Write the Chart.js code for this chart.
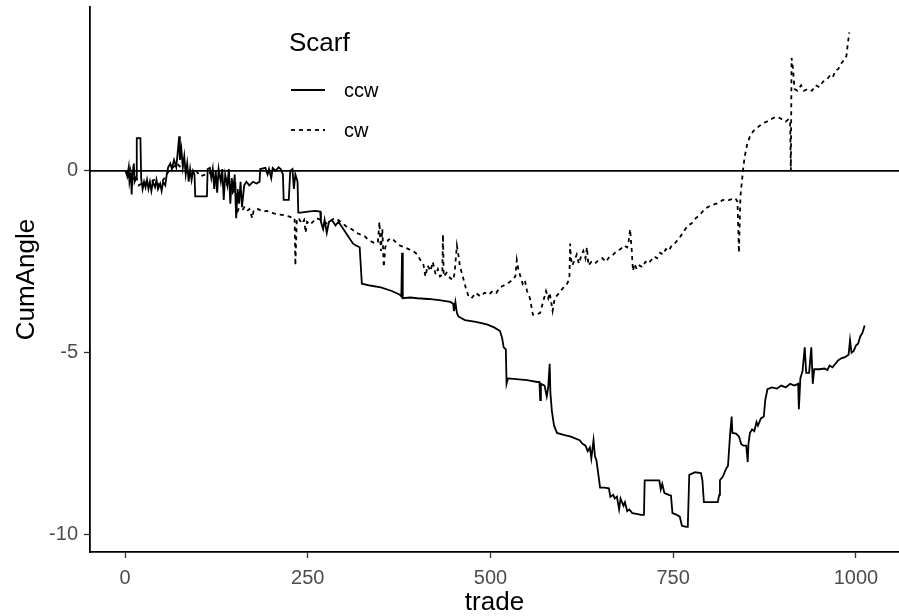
<!DOCTYPE html>
<html><head><meta charset="utf-8">
<script src="https://cdn.jsdelivr.net/npm/chart.js@4.4.1/dist/chart.umd.min.js"></script>
<style>html,body{margin:0;padding:0;background:#fff;} canvas{display:block;}</style>
</head><body>
<canvas id="c" width="899" height="616"></canvas>
<script>
const legendTitle = 'Scarf';
const seriesNames = ['ccw', 'cw'];
const xTitle = 'trade';
const yTitle = 'CumAngle';
const xTicks = [0, 250, 500, 750, 1000];
const yTicks = [-10, -5, 0];
const refLineValue = 0;

const ccwTrade = [
  1,3,5,6,8,9,10,12,13,15,
  16,18,21,22,24,26,28,30,32,34,
  36,38,41,43,45,48,50,52,55,57,
  59,62,64,67,70,72,74,75,77,79,
  81,83,85,87,89,91,93,95,96,104,
  112,113,116,118,120,122,124,126,128,131,
  133,135,137,140,142,144,146,148,150,152,
  154,156,158,160,163,166,170,175,180,184,
  185,192,195,197,200,202,206,210,213,216,
  217,224,226,229,231,233,236,237,240,250,
  260,267,268,271,273,276,279,283,288,292,
  297,302,307,312,316,321,324,335,350,365,
  376,378,379,380,390,400,415,430,445,449,
  450,452,454,456,465,480,495,505,513,516,
  518,521,522,524,535,550,564,567,568,569,
  574,577,579,581,582,584,587,591,600,610,
  622,626,630,633,636,638,641,643,645,648,
  650,656,662,664,668,670,673,676,678,682,
  684,687,690,694,700,706,710,711,720,731,
  733,735,738,744,747,749,755,759,762,768,
  770,772,780,788,790,792,800,811,813,814,
  818,820,822,825,826,828,830,831,836,840,
  843,846,850,852,853,855,858,861,864,866,
  870,874,876,879,885,892,898,904,910,916,
  921,922,924,927,930,932,936,939,941,943,
  950,957,961,964,968,972,976,980,985,990,
  992,994,997,1000,1003,1006,1009,1012
];
const ccwAngle = [
  0.0,-0.15,0.1,-0.3,-0.05,-0.65,-0.1,0.2,-0.3,-0.2,
  0.9,0.9,0.9,-0.2,-0.5,-0.3,-0.45,-0.25,-0.5,-0.3,
  -0.55,-0.3,-0.45,-0.25,-0.5,-0.35,-0.55,-0.3,-0.4,-0.1,
  0.1,0.2,0.05,0.3,0.1,0.5,0.95,0.3,0.6,0.1,
  0.4,-0.1,0.2,-0.3,0.05,-0.25,0.0,-0.1,-0.7,-0.7,
  -0.7,0.05,0.08,-0.2,0.05,-0.5,0.0,-0.6,0.05,-0.3,
  0.05,-0.8,-0.1,-0.4,0.05,-0.9,-0.2,-0.6,-0.1,-1.3,
  -0.5,-0.9,-0.3,-1.0,-0.4,-0.3,-0.4,-0.3,-0.35,-0.3,
  0.05,0.08,-0.1,0.05,-0.2,0.08,0.0,0.1,0.05,-0.1,
  -0.8,-0.8,0.0,0.05,-0.5,-0.1,-0.3,-1.15,-1.15,-1.12,
  -1.1,-1.12,-1.4,-1.6,-1.35,-1.7,-1.4,-1.35,-1.5,-1.4,
  -1.55,-1.7,-1.85,-2.0,-2.05,-2.1,-3.1,-3.15,-3.2,-3.3,
  -3.4,-3.45,-2.25,-3.5,-3.48,-3.5,-3.52,-3.55,-3.6,-3.65,
  -3.85,-3.6,-3.9,-4.0,-4.1,-4.15,-4.22,-4.3,-4.4,-4.6,
  -4.85,-4.9,-5.85,-5.7,-5.72,-5.75,-5.8,-5.8,-6.3,-5.85,
  -5.9,-6.2,-5.95,-5.3,-6.1,-6.6,-7.0,-7.2,-7.25,-7.3,
  -7.4,-7.5,-7.55,-7.7,-7.6,-7.9,-7.4,-7.85,-7.95,-8.4,
  -8.7,-8.7,-8.72,-8.95,-8.9,-9.0,-8.95,-9.3,-9.0,-9.2,
  -9.1,-9.35,-9.3,-9.4,-9.42,-9.45,-9.45,-8.5,-8.5,-8.5,
  -8.75,-8.6,-8.85,-8.9,-8.92,-9.4,-9.45,-9.5,-9.75,-9.78,
  -9.78,-8.35,-8.28,-8.3,-8.5,-9.1,-9.1,-9.1,-8.9,-8.5,
  -8.4,-8.3,-8.2,-8.1,-7.8,-7.2,-6.75,-7.2,-7.22,-7.3,
  -7.5,-7.55,-7.55,-8.0,-7.5,-7.2,-7.1,-7.15,-6.9,-7.0,
  -6.8,-6.75,-6.3,-6.0,-5.95,-5.98,-5.9,-5.95,-5.85,-5.9,
  -5.85,-6.55,-5.7,-5.5,-4.85,-5.55,-5.55,-4.85,-5.85,-5.45,
  -5.45,-5.43,-5.47,-5.35,-5.4,-5.3,-5.2,-5.15,-5.12,-5.05,
  -4.65,-5.0,-4.95,-4.8,-4.75,-4.55,-4.45,-4.25
];

const cwTrade = [
  1,4,7,11,14,19,25,33,40,47,
  54,60,66,71,76,80,84,90,97,103,
  110,118,125,130,136,142,147,151,153,155,
  160,163,167,170,174,176,182,188,194,200,
  206,212,218,224,230,232,233,235,238,242,
  245,247,249,253,257,262,268,274,280,286,
  292,298,304,310,316,322,328,333,338,343,
  346,348,350,352,354,356,360,365,370,376,
  382,388,394,400,404,408,411,414,418,421,
  425,428,431,434,435,436,440,445,449,451,
  454,456,458,462,466,470,474,480,486,492,
  498,503,508,513,518,523,530,534,536,538,
  541,544,547,550,554,558,563,568,572,576,
  579,581,585,588,592,596,600,605,608,609,
  610,612,615,618,621,624,627,630,632,634,
  638,643,648,653,658,663,668,673,678,683,
  687,689,691,693,695,697,700,704,708,712,
  716,720,724,728,732,736,740,744,748,752,
  756,760,765,770,775,781,787,793,799,806,
  812,818,824,830,835,838,840,842,844,846,
  848,851,855,860,866,872,878,884,890,896,
  900,904,908,910,911,912,914,916,920,925,
  929,934,940,945,950,955,960,964,968,972,
  976,980,984,987,989,991
];
const cwAngle = [
  0.0,-0.2,0.05,-0.3,-0.1,-0.4,-0.3,-0.35,-0.25,-0.4,
  -0.2,0.0,0.1,0.2,0.1,0.25,0.0,-0.1,0.0,-0.15,
  -0.1,-0.05,-0.3,-0.1,-0.5,-0.3,-0.6,-0.4,-1.2,-1.05,
  -1.1,-1.0,-1.1,-1.05,-1.3,-1.08,-1.05,-1.12,-1.1,-1.15,
  -1.18,-1.2,-1.22,-1.25,-1.3,-1.3,-2.6,-1.3,-1.32,-1.45,
  -1.35,-1.7,-1.4,-1.48,-1.4,-1.3,-1.35,-1.45,-1.4,-1.3,
  -1.35,-1.45,-1.55,-1.6,-1.7,-1.75,-1.8,-1.9,-1.95,-2.0,
  -1.95,-1.4,-2.2,-1.6,-2.65,-2.1,-1.9,-1.85,-1.95,-2.05,
  -2.1,-2.15,-2.2,-2.3,-2.45,-2.55,-2.9,-2.6,-2.75,-2.5,
  -2.85,-2.7,-2.9,-2.85,-1.75,-2.9,-2.8,-2.95,-3.0,-2.8,
  -2.05,-2.3,-2.6,-2.9,-3.2,-3.45,-3.5,-3.35,-3.45,-3.35,
  -3.4,-3.3,-3.35,-3.2,-3.15,-3.1,-3.0,-2.9,-2.45,-2.7,
  -2.9,-3.1,-3.0,-3.3,-3.5,-3.95,-3.95,-3.9,-3.6,-3.3,
  -3.5,-3.35,-3.85,-3.5,-3.4,-3.3,-3.2,-3.1,-2.95,-2.0,
  -2.4,-2.6,-2.45,-2.3,-2.55,-2.35,-2.2,-2.4,-2.1,-2.6,
  -2.5,-2.55,-2.45,-2.4,-2.5,-2.35,-2.3,-2.2,-2.15,-2.05,
  -2.1,-1.95,-1.6,-2.1,-2.75,-2.55,-2.7,-2.6,-2.65,-2.5,
  -2.55,-2.45,-2.35,-2.4,-2.25,-2.3,-2.15,-2.2,-2.05,-2.0,
  -1.9,-1.8,-1.65,-1.5,-1.45,-1.3,-1.2,-1.05,-0.98,-0.92,
  -0.88,-0.8,-0.82,-0.78,-0.75,-0.85,-2.25,-0.7,-0.3,0.1,
  0.4,0.7,0.95,1.1,1.2,1.3,1.35,1.42,1.48,1.45,
  1.4,1.35,1.42,1.38,0.0,3.1,2.8,2.25,2.2,2.35,
  2.2,2.25,2.2,2.35,2.3,2.45,2.5,2.6,2.55,2.75,
  2.8,2.95,3.05,3.15,3.5,3.8
];

const FONT = "'Liberation Sans', Arial, Helvetica, sans-serif";
const TICK_SIZE = 20;
const TITLE_SIZE = 26;
const toPoints = (xs, ys) => xs.map((x, i) => ({x: x, y: ys[i]}));
const fmt = v => String(v);

const zeroLinePlugin = {
  id: 'zeroLine',
  afterDatasetsDraw(chart) {
    const {ctx, chartArea, scales} = chart;
    const y = scales.y.getPixelForValue(refLineValue);
    ctx.save();
    ctx.strokeStyle = '#000';
    ctx.lineWidth = 1.8;
    ctx.beginPath();
    ctx.moveTo(chartArea.left, y);
    ctx.lineTo(chartArea.right, y);
    ctx.stroke();
    ctx.restore();
  }
};

const legendPlugin = {
  id: 'ggLegend',
  afterDraw(chart) {
    const ctx = chart.ctx;
    ctx.save();
    ctx.fillStyle = '#000';
    ctx.textBaseline = 'middle';
    ctx.textAlign = 'left';
    ctx.font = TITLE_SIZE + 'px ' + FONT;
    ctx.fillText(legendTitle, 289, 44);
    const rows = [90, 130];
    chart.data.datasets.forEach((ds, i) => {
      const yy = rows[i];
      ctx.strokeStyle = ds.borderColor;
      ctx.lineWidth = ds.borderWidth;
      ctx.setLineDash(ds.borderDash || []);
      ctx.beginPath();
      ctx.moveTo(291, yy);
      ctx.lineTo(325, yy);
      ctx.stroke();
      ctx.setLineDash([]);
      ctx.font = TICK_SIZE + 'px ' + FONT;
      ctx.fillStyle = '#000';
      ctx.fillText(ds.label, 344, yy + 1);
    });
    ctx.restore();
  }
};

new Chart(document.getElementById('c'), {
  type: 'line',
  data: {
    datasets: [
      {label: seriesNames[0], data: toPoints(ccwTrade, ccwAngle), borderColor: '#000', borderWidth: 1.8, pointRadius: 0, tension: 0, fill: false},
      {label: seriesNames[1], data: toPoints(cwTrade, cwAngle), borderColor: '#000', borderWidth: 1.8, borderDash: [4, 4], pointRadius: 0, tension: 0, fill: false}
    ]
  },
  options: {
    responsive: false,
    animation: false,
    parsing: false,
    normalized: true,
    layout: {padding: {top: 7, right: 0, bottom: 0, left: 0}},
    plugins: {legend: {display: false}, tooltip: {enabled: false}, title: {display: false}},
    scales: {
      x: {
        type: 'linear', min: -48, max: 1059,
        afterBuildTicks: s => { s.ticks = xTicks.map(v => ({value: v})); },
        afterFit: s => { s.height = 64; s.paddingLeft = 0; s.paddingRight = 0; },
        ticks: {color: '#4d4d4d', font: {family: FONT, size: TICK_SIZE}, padding: 8, maxRotation: 0, autoSkip: false, callback: v => fmt(v)},
        grid: {display: true, drawOnChartArea: false, drawTicks: true, tickLength: 6, tickColor: '#333', tickWidth: 1.3},
        border: {display: true, color: '#000', width: 1.8},
        title: {display: true, text: xTitle, color: '#000', font: {family: FONT, size: TITLE_SIZE, lineHeight: 1.0}, padding: {top: 0, bottom: 0}}
      },
      y: {
        type: 'linear', min: -10.47, max: 4.5,
        afterBuildTicks: s => { s.ticks = yTicks.map(v => ({value: v})); },
        afterFit: s => { s.width = 90; s.paddingTop = 0; s.paddingBottom = 0; },
        ticks: {color: '#4d4d4d', font: {family: FONT, size: TICK_SIZE}, padding: 6, autoSkip: false, callback: v => fmt(v)},
        grid: {display: true, drawOnChartArea: false, drawTicks: true, tickLength: 6, tickColor: '#333', tickWidth: 1.3},
        border: {display: true, color: '#000', width: 1.8},
        title: {display: true, text: yTitle, color: '#000', font: {family: FONT, size: TITLE_SIZE}, padding: {top: 11, bottom: 0}}
      }
    }
  },
  plugins: [zeroLinePlugin, legendPlugin]
});
</script>
</body></html>
